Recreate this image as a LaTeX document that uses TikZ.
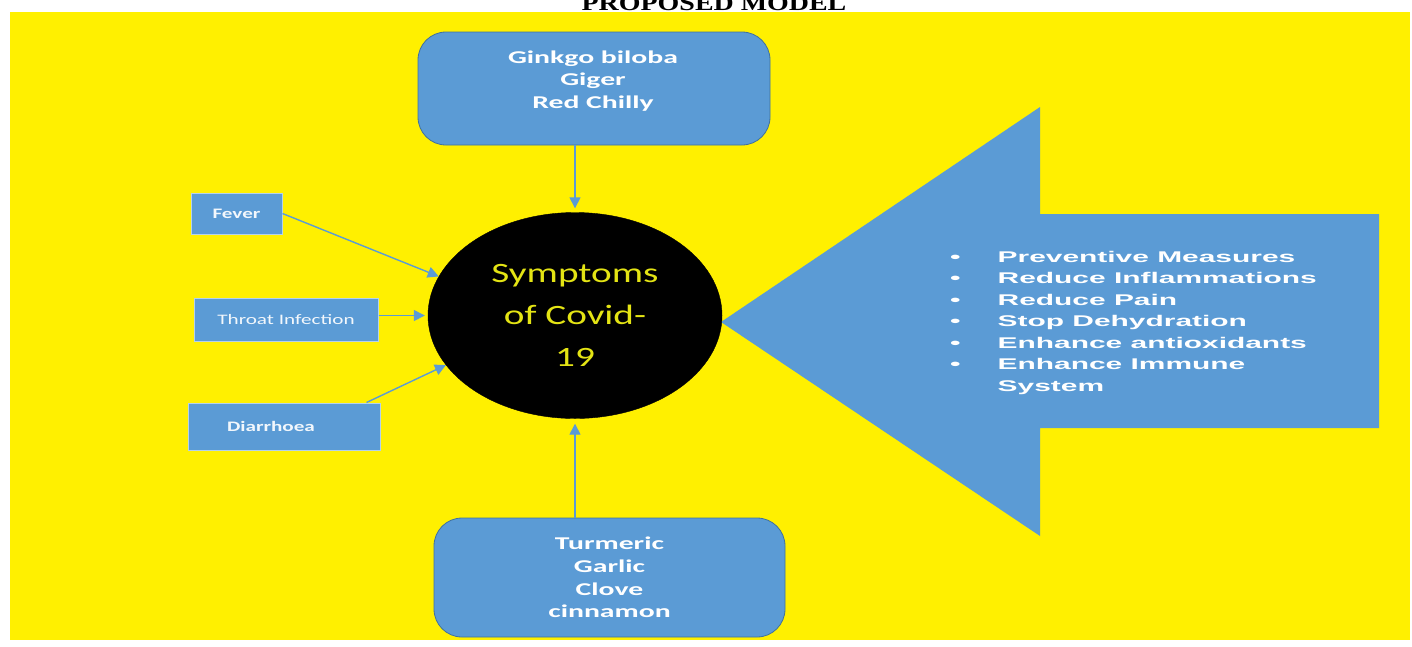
\documentclass[tikz,border=0pt]{standalone}
\usepackage{fontspec}
\usetikzlibrary{shapes.geometric,arrows.meta}

\newfontfamily\titlefont[FakeStretch=1.27]{Liberation Serif}
\newfontfamily\herbfont[FakeStretch=1.65]{Carlito}
\newfontfamily\smallfont[FakeStretch=1.46]{Carlito}
\newfontfamily\circfont[FakeStretch=1.4]{Carlito}
\newfontfamily\listfont[FakeStretch=1.93]{Liberation Sans}

\definecolor{bgyellow}{RGB}{255,240,0}
\definecolor{boxblue}{RGB}{91,155,213}
\definecolor{edgeblue}{RGB}{65,113,156}
\definecolor{symyellow}{RGB}{228,228,20}

\tikzset{
  herbbox/.style={draw=edgeblue, line width=0.8pt, fill=boxblue, rounded corners=28pt},
  herbtext/.style={text=white, align=center, font=\herbfont\bfseries\fontsize{18}{22.8}\selectfont},
  symbox/.style={draw=white!55!boxblue, line width=1pt, fill=boxblue, text=white!92!boxblue},
  feed/.style={draw=boxblue, line width=1.4pt, -{Triangle[length=11pt,width=11pt]}},
}

\begin{document}
\begin{tikzpicture}[x=1pt, y=-1pt]

  \clip (0,0) rectangle (1412,646);

  % Background panel
  \fill[bgyellow] (10,12) rectangle (1410,640);

  % Title
  \node[anchor=base, inner sep=0, font=\titlefont\bfseries\fontsize{22}{22}\selectfont] (title) at (714,10) {PROPOSED MODEL};

  % Big arrow with the benefits
  \fill[boxblue] (721,322) -- (1040,107) -- (1040,214) -- (1379,214) -- (1379,428)
    -- (1040,428) -- (1040,536) -- cycle;
  \node[anchor=north west, inner sep=0, text=white, font=\listfont\bfseries\fontsize{15.5}{21.5}\selectfont] (benefits) at (950,247) {%
    \begin{tabular}{@{}l@{\hspace{37pt}}l@{}}
      • & Preventive Measures\\
      • & Reduce Inflammations\\
      • & Reduce Pain\\
      • & Stop Dehydration\\
      • & Enhance antioxidants\\
      • & Enhance Immune\\
        & System
    \end{tabular}};

  % Herb boxes
  \node[herbbox, minimum width=352pt, minimum height=113pt] (herbtop) at (594,88.5) {};
  \node[herbtext] (herbtoptext) at (593,81) {Ginkgo biloba\\Giger\\Red Chilly};
  \node[herbbox, herbtext, minimum width=351pt, minimum height=119pt] (herbbot) at (609.5,577.5)
    {Turmeric\\Garlic\\Clove\\cinnamon};

  % Symptom boxes
  \node[symbox, minimum width=91pt, minimum height=41pt, font=\smallfont\bfseries\fontsize{14.5}{17}\selectfont] (fever) at (236.5,213.5) {Fever};
  \node[symbox, minimum width=184pt, minimum height=43pt, font=\smallfont\fontsize{14.5}{17}\selectfont] (throat) at (286,319.5) {Throat Infection};
  \node[symbox, minimum width=192pt, minimum height=47pt, font=\smallfont\bfseries\fontsize{14.5}{17}\selectfont] (diarrhoea) at (284,426.5) {Diarrhoea\hspace*{26pt}};

  % Central ellipse
  \node[ellipse, fill=black, draw=black, minimum width=294pt, minimum height=206pt, inner sep=0,
    text=symyellow, align=center, font=\circfont\fontsize{28}{42}\selectfont] (symptoms) at (575,315.5)
    {Symptoms\\of Covid-\\19};

  % Connectors
  \draw[feed] (fever.east) -- (symptoms.164);
  \draw[feed] (throat.east |- symptoms.west) -- ([xshift=-3pt]symptoms.west);
  \draw[feed] ([xshift=-14pt]diarrhoea.north east) -- (symptoms.201);
  \draw[feed] (symptoms.north |- herbtop.south) -- ([yshift=4pt]symptoms.north);
  \draw[feed] (symptoms.south |- herbbot.north) -- ([yshift=-5pt]symptoms.south);

\end{tikzpicture}
\end{document}
